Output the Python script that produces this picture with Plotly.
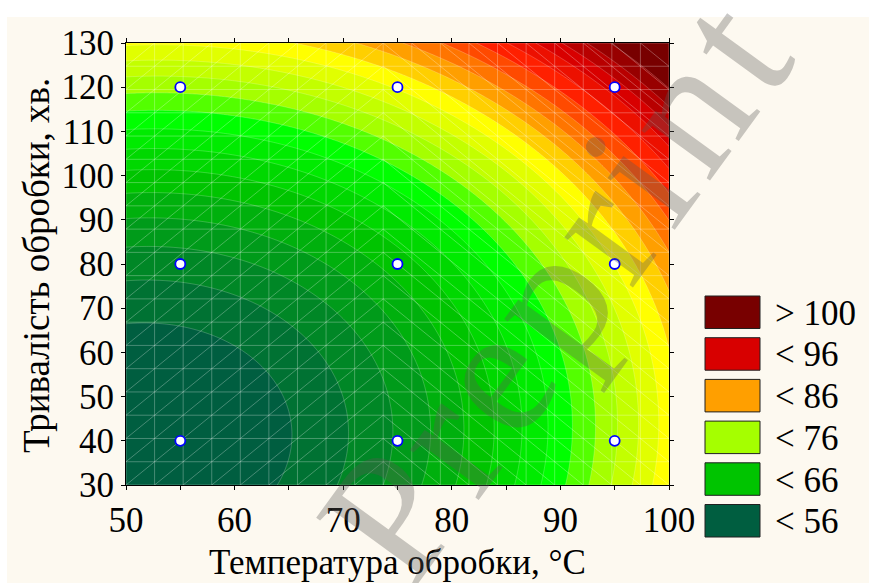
import numpy as np
import plotly.graph_objects as go

# Design points of the experiment: temperature (°C), duration (min), response
temperature = [55, 55, 55, 75, 75, 75, 95, 95, 95]
duration = [40, 80, 120, 40, 80, 120, 40, 80, 120]
response = [53.9, 59.0, 74.7, 60.2, 65.0, 80.3, 75.8, 80.1, 95.0]

# Axis ticks
x_ticks = [50, 60, 70, 80, 90, 100]
y_ticks = [30, 40, 50, 60, 70, 80, 90, 100, 110, 120, 130]

# Contour levels
level_start, level_end, level_step = 56, 100, 2

# Colour anchors along the response scale
anchor_values = [55, 65, 71, 75, 81, 85, 91, 95, 101]
anchor_colors = ["#005E40", "#00C400", "#00FF00", "#A5FF00", "#FFFF00",
                 "#FF9F00", "#FF2000", "#D80000", "#780000"]

# Legend entries
legend_labels = ["> 100", "< 96", "< 86", "< 76", "< 66", "< 56"]
legend_colors = ["#780000", "#D80000", "#FF9F00", "#A5FF00", "#00C400", "#005E40"]

X_RANGE = (50, 100)
Y_RANGE = (30, 130)

# ---- second-order response surface fitted to the design points ----
T = np.array(temperature, float)
D = np.array(duration, float)
Z = np.array(response, float)
A = np.column_stack([np.ones_like(T), T, D, T ** 2, D ** 2, T * D])
coef, *_ = np.linalg.lstsq(A, Z, rcond=None)

gx = np.linspace(*X_RANGE, 241)
gy = np.linspace(*Y_RANGE, 241)
GX, GY = np.meshgrid(gx, gy)
GZ = (coef[0] + coef[1] * GX + coef[2] * GY + coef[3] * GX ** 2
      + coef[4] * GY ** 2 + coef[5] * GX * GY)

# plotly maps the band midpoints from start - step/2 to end + step/2
n_levels = int((level_end - level_start) // level_step) + 1
v_lo = level_start - level_step / 2
v_hi = level_start + n_levels * level_step - level_step / 2
colorscale = [[(v - v_lo) / (v_hi - v_lo), c] for v, c in zip(anchor_values, anchor_colors)]

fig = go.Figure()
fig.add_trace(go.Contour(
    x=gx, y=gy, z=GZ,
    autocontour=False,
    contours=dict(start=level_start, end=level_end, size=level_step, coloring="fill"),
    colorscale=colorscale,
    showscale=False,
    line=dict(color="rgba(255,255,255,0.35)", width=0.6),
    hoverinfo="skip",
))

# triangulated mesh overlay
mx = np.linspace(*X_RANGE, 20)
my = np.linspace(*Y_RANGE, 20)
mesh_x, mesh_y = [], []
for v in mx:
    mesh_x += [v, v, None]
    mesh_y += [Y_RANGE[0], Y_RANGE[1], None]
for h in my:
    mesh_x += [X_RANGE[0], X_RANGE[1], None]
    mesh_y += [h, h, None]
for i in range(len(mx) - 1):
    for j in range(len(my) - 1):
        if i < 9:
            mesh_x += [mx[i], mx[i + 1], None]
            mesh_y += [my[j], my[j + 1], None]
        else:
            mesh_x += [mx[i], mx[i + 1], None]
            mesh_y += [my[j + 1], my[j], None]
fig.add_trace(go.Scatter(
    x=mesh_x, y=mesh_y, mode="lines",
    line=dict(color="rgba(255,255,255,0.28)", width=1),
    hoverinfo="skip", showlegend=False,
))

fig.add_trace(go.Scatter(
    x=temperature, y=duration, mode="markers",
    marker=dict(size=10, color="white", line=dict(color="#0000FF", width=1.8)),
    hoverinfo="skip", showlegend=False,
))

# figure geometry (pixels)
W, H = 869, 583
L, R, TOP, B = 126, 200, 43, 98
pw, ph = W - L - R, H - TOP - B


def px_x(px):
    return (px - L) / pw


def px_y(py):
    return (H - B - py) / ph


serif = "Liberation Serif, Times New Roman, serif"

shapes = [dict(type="rect", xref="paper", yref="paper", layer="below",
               x0=px_x(7), x1=px_x(W + 2), y0=px_y(H + 2), y1=px_y(17),
               fillcolor="#FDF9F0", line=dict(width=0))]
annotations = []

box_top0, box_h, box_gap = 296, 32.5, 41.7
for k, (lab, col) in enumerate(zip(legend_labels, legend_colors)):
    top = box_top0 + k * box_gap
    shapes.append(dict(type="rect", xref="paper", yref="paper",
                       x0=px_x(705), x1=px_x(760), y0=px_y(top + box_h), y1=px_y(top),
                       fillcolor=col, line=dict(color="#202020", width=1)))
    annotations.append(dict(xref="paper", yref="paper", x=px_x(773), y=px_y(top + box_h / 2 + 1),
                            xanchor="left", yanchor="middle", showarrow=False, text=lab,
                            font=dict(family=serif, size=35, color="black")))

annotations.append(dict(xref="paper", yref="paper", x=0.5, y=px_y(562),
                        xanchor="center", yanchor="middle", showarrow=False,
                        text="Температура обробки, °C",
                        font=dict(family=serif, size=35, color="black")))
annotations.append(dict(xref="paper", yref="paper", x=px_x(36), y=px_y(266),
                        xanchor="center", yanchor="middle", showarrow=False, textangle=-90,
                        text="Тривалість обробки, хв.",
                        font=dict(family=serif, size=37, color="black")))

# "Preprint" watermark, set letter by letter along a rising diagonal
wm_text = "Preprint"
wm_adv = [0.556, 0.333, 0.444, 0.5, 0.333, 0.278, 0.5, 0.278]  # em advances
wm_size, wm_track, wm_angle = 185, 9, 54
wm_first = (390, 515)
ux, uy = np.cos(np.radians(wm_angle)), -np.sin(np.radians(wm_angle))
pos = 0.0
for k, ch in enumerate(wm_text):
    if k > 0:
        pos += (wm_adv[k - 1] + wm_adv[k]) / 2 * wm_size + wm_track
    cx, cy = wm_first[0] + ux * pos, wm_first[1] + uy * pos
    annotations.append(dict(xref="paper", yref="paper", x=px_x(cx), y=px_y(cy),
                            xanchor="center", yanchor="middle", showarrow=False,
                            textangle=-wm_angle, text=ch,
                            font=dict(family=serif, size=wm_size, color="rgba(90,88,85,0.33)")))

axis_common = dict(
    showline=True, linecolor="black", linewidth=1, mirror="ticks",
    ticks="outside", ticklen=4, tickwidth=1, tickcolor="black",
    showgrid=False, zeroline=False,
    tickfont=dict(family=serif, size=35, color="black"),
)

fig.update_layout(
    width=W, height=H,
    margin=dict(l=L, r=R, t=TOP, b=B),
    paper_bgcolor="white",
    plot_bgcolor="#FDF9F0",
    showlegend=False,
    shapes=shapes,
    annotations=annotations,
    xaxis=dict(range=list(X_RANGE), tickvals=x_ticks, ticklabelstandoff=0,
               minor=dict(dtick=5, ticks="outside", ticklen=4, tickcolor="black"),
               **axis_common),
    yaxis=dict(range=list(Y_RANGE), tickvals=y_ticks, ticklabelstandoff=0, **axis_common),
)

fig.write_html("out.html")
